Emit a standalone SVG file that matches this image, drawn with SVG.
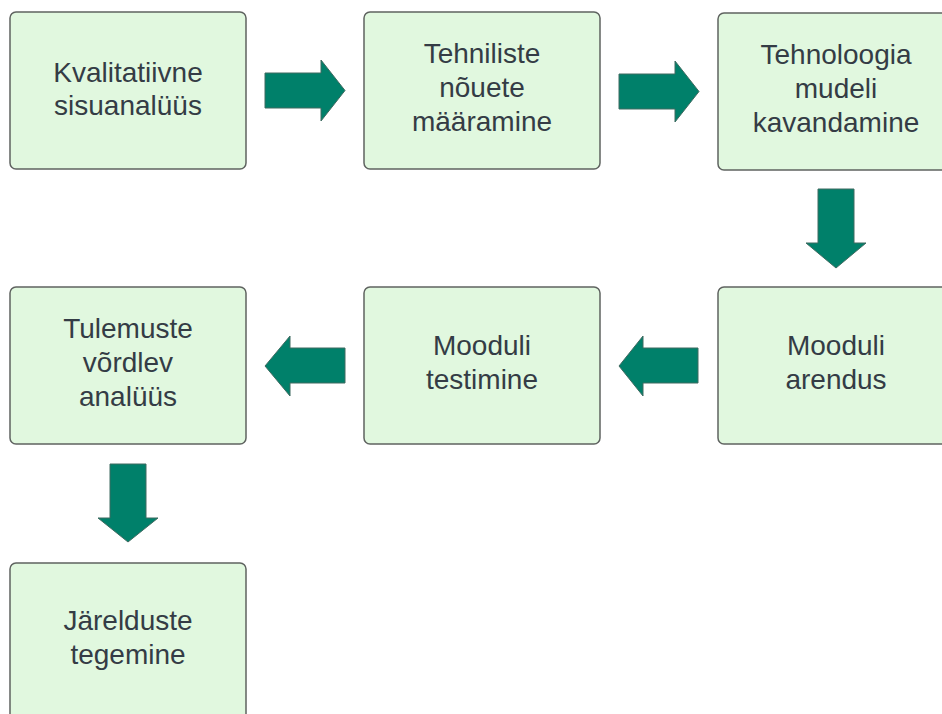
<svg xmlns="http://www.w3.org/2000/svg" width="942" height="714" viewBox="0 0 942 714">
<style>
.box{fill:#e1f8df;stroke:#5f6360;stroke-width:1.5}
.lbl{font-family:"Liberation Sans",Arial,sans-serif;font-size:28px;fill:#343c45;text-anchor:middle}
.arr{fill:#00806a;stroke:#3f6a60;stroke-width:1}
</style>
<rect width="942" height="714" fill="#ffffff"/>
<g id="n1"><rect class="box" x="10" y="12" width="236" height="157" rx="6"/>
<text class="lbl" x="128" y="82">Kvalitatiivne</text><text class="lbl" x="128" y="115">sisuanalüüs</text></g>
<g id="n2"><rect class="box" x="364" y="12" width="236" height="157" rx="6"/>
<text class="lbl" x="482" y="63">Tehniliste</text><text class="lbl" x="482" y="97">nõuete</text><text class="lbl" x="482" y="131">määramine</text></g>
<g id="n3"><rect class="box" x="718" y="13" width="236" height="157" rx="6"/>
<text class="lbl" x="836" y="64">Tehnoloogia</text><text class="lbl" x="836" y="98">mudeli</text><text class="lbl" x="836" y="132">kavandamine</text></g>
<g id="n4"><rect class="box" x="718" y="287" width="236" height="157" rx="6"/>
<text class="lbl" x="836" y="355">Mooduli</text><text class="lbl" x="836" y="389">arendus</text></g>
<g id="n5"><rect class="box" x="364" y="287" width="236" height="157" rx="6"/>
<text class="lbl" x="482" y="355">Mooduli</text><text class="lbl" x="482" y="389">testimine</text></g>
<g id="n6"><rect class="box" x="10" y="287" width="236" height="157" rx="6"/>
<text class="lbl" x="128" y="338">Tulemuste</text><text class="lbl" x="128" y="372">võrdlev</text><text class="lbl" x="128" y="406">analüüs</text></g>
<g id="n7"><rect class="box" x="10" y="563" width="236" height="157" rx="6"/>
<text class="lbl" x="128" y="630">Järelduste</text><text class="lbl" x="128" y="664">tegemine</text></g>
<g id="connectors">
<polygon class="arr" points="265,73 321,73 321,60 345,90.5 321,121 321,108 265,108"/>
<polygon class="arr" points="619,74 675,74 675,61 699,91.5 675,122 675,109 619,109"/>
<polygon class="arr" points="818,189 854,189 854,243 866,243 836,268 806,243 818,243"/>
<polygon class="arr" points="698,348 643,348 643,336 619,366 643,396 643,383 698,383"/>
<polygon class="arr" points="345,348 290,348 290,336 265,366 290,396 290,383 345,383"/>
<polygon class="arr" points="110,464 146,464 146,518 158,518 128,542 98,518 110,518"/>
</g>
</svg>
